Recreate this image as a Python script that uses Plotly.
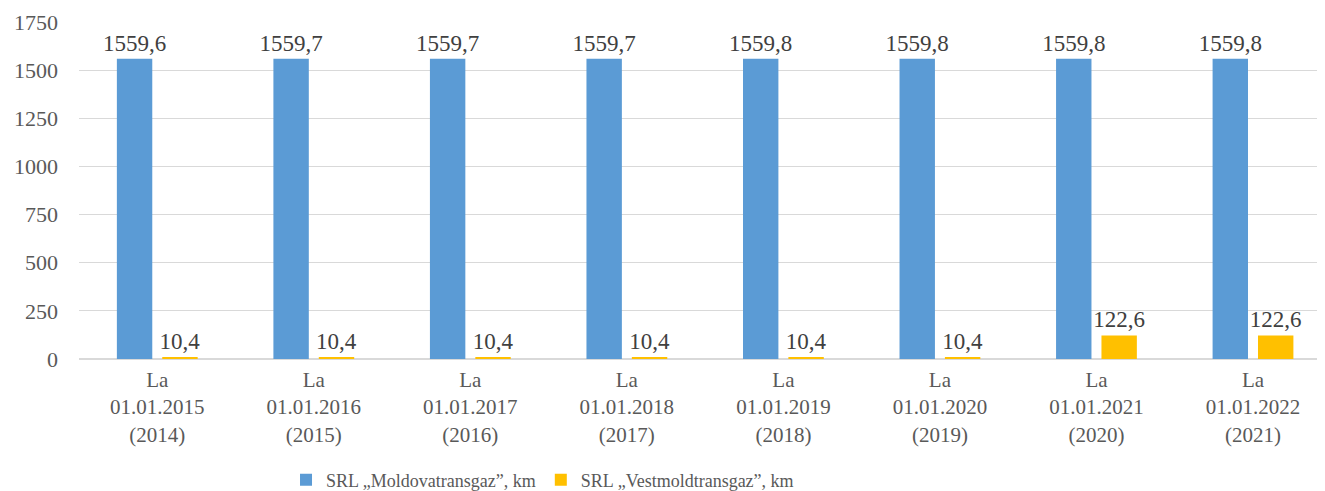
import plotly.graph_objects as go

categories = [
    "La<br>01.01.2015<br>(2014)",
    "La<br>01.01.2016<br>(2015)",
    "La<br>01.01.2017<br>(2016)",
    "La<br>01.01.2018<br>(2017)",
    "La<br>01.01.2019<br>(2018)",
    "La<br>01.01.2020<br>(2019)",
    "La<br>01.01.2021<br>(2020)",
    "La<br>01.01.2022<br>(2021)",
]
moldova = [1559.6, 1559.7, 1559.7, 1559.7, 1559.8, 1559.8, 1559.8, 1559.8]
vestmold = [10.4, 10.4, 10.4, 10.4, 10.4, 10.4, 122.6, 122.6]
series_names = ["SRL „Moldovatransgaz”, km", "SRL „Vestmoldtransgaz”, km"]
y_ticks = [0, 250, 500, 750, 1000, 1250, 1500, 1750]

FONT = "Liberation Serif, Times New Roman, serif"
GREY = "#595959"


def fmt(v):
    return f"{v:.1f}".replace(".", ",")


fig = go.Figure()
for name, vals, color in [
    (series_names[0], moldova, "#5B9BD5"),
    (series_names[1], vestmold, "#FFC000"),
]:
    fig.add_trace(go.Bar(
        x=categories, y=vals, name=name,
        marker=dict(color=color, line=dict(width=0)),
        text=[fmt(v) for v in vals], textposition="outside",
        constraintext="none",
        textfont=dict(family=FONT, size=23, color="#404040"),
        cliponaxis=False,
    ))

fig.update_layout(
    width=1317, height=483,
    margin=dict(l=71, r=0, t=14, b=132, autoexpand=False),
    barmode="group", bargap=0.42, bargroupgap=0.22,
    plot_bgcolor="white", paper_bgcolor="white",
    font=dict(family=FONT, size=22, color=GREY),
    showlegend=True,
    legend=dict(orientation="h", x=0.372, xanchor="center", y=-0.359, yanchor="middle",
                font=dict(family=FONT, size=18, color=GREY), itemwidth=30,
                traceorder="normal"),
    xaxis=dict(range=[-0.5, 7.46], showgrid=False, tickfont=dict(size=21, color=GREY),
               ticks="", showline=False, automargin=False, ticklabelstandoff=6),
    yaxis=dict(range=[0, 1750], tickvals=y_ticks, showgrid=True, gridcolor="#d9d9d9",
               gridwidth=1, zeroline=True, zerolinecolor="#d9d9d9", zerolinewidth=2,
               tickfont=dict(size=22, color=GREY), ticks="", ticklabelstandoff=20,
               automargin=False),
)

fig.write_html("out.html")
